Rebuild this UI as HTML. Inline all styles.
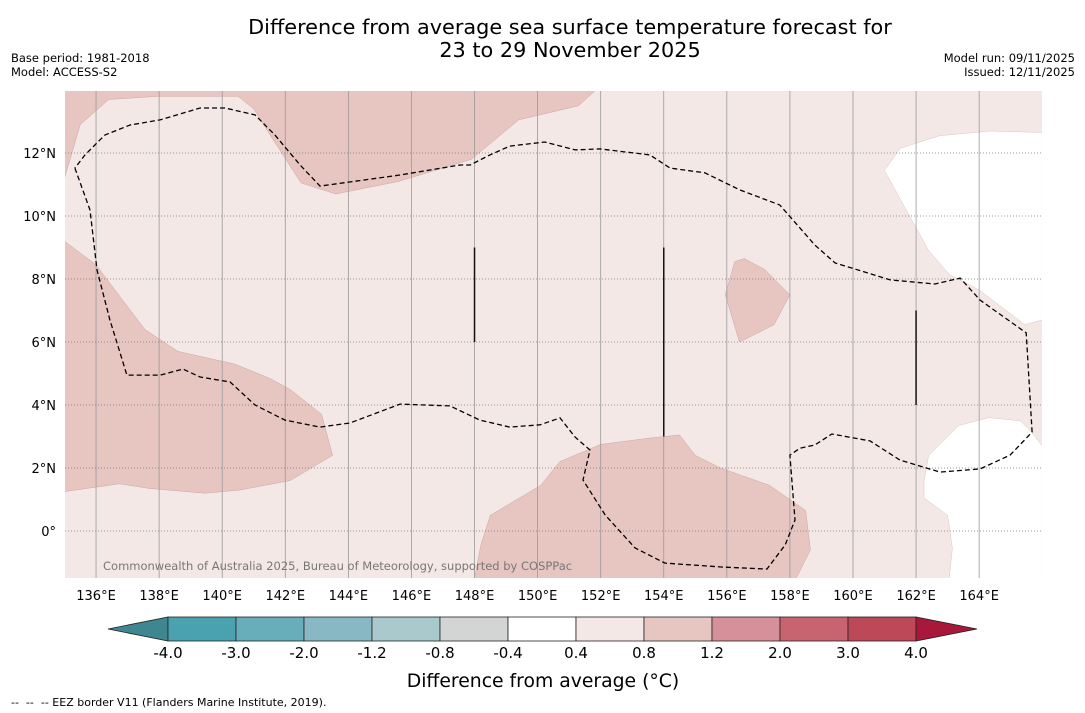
<!DOCTYPE html>
<html><head><meta charset="utf-8"><style>
body{margin:0;background:#fff;width:1085px;height:713px;overflow:hidden;font-family:"Liberation Sans","DejaVu Sans",sans-serif}
svg{position:absolute;left:0;top:0}
</style></head><body>
<svg id="chart" width="1085" height="713" viewBox="0 0 1085 713" font-family="'DejaVu Sans','Liberation Sans',sans-serif">
<text x="570" y="34" text-anchor="middle" font-size="20.8">Difference from average sea surface temperature forecast for</text>
<text x="570" y="57" text-anchor="middle" font-size="20.8">23 to 29 November 2025</text>
<text x="11" y="62" font-size="11.5">Base period: 1981-2018</text>
<text x="11" y="76" font-size="11.5">Model: ACCESS-S2</text>
<text x="1075" y="62" font-size="11.5" text-anchor="end">Model run: 09/11/2025</text>
<text x="1075" y="76" font-size="11.5" text-anchor="end">Issued: 12/11/2025</text>
<defs><clipPath id="mapclip"><rect x="65" y="91" width="977" height="487"/></clipPath></defs>
<g id="map" clip-path="url(#mapclip)"></g>
<g id="axes"></g>
<g id="cbar"></g>
<text x="543" y="687" text-anchor="middle" font-size="18.8">Difference from average (°C)</text>
<text x="11" y="706" font-size="11" xml:space="preserve">--  --  -- EEZ border V11 (Flanders Marine Institute, 2019).</text>
</svg>
<script>
const lonTicks=[136,138,140,142,144,146,148,150,152,154,156,158,160,162,164];
const latTicks=[0,2,4,6,8,10,12];
const cbLabels=["-4.0","-3.0","-2.0","-1.2","-0.8","-0.4","0.4","0.8","1.2","2.0","3.0","4.0"];
const cbColors=["#4aa2b1","#68adba","#88b8c3","#a9c9cd","#d3d5d5","#ffffff","#f4e8e6","#e7c6c2","#d5909a","#c8646f","#bd4858"];
const lowColor="#3e8790", highColor="#a7183b";
const warmRegions=[
 [[135,11.2],[135.5,12.9],[136.4,13.7],[138,13.8],[140.5,13.8],[141,13.4],[141.5,12.6],[142.5,11.05],[143.6,10.7],[145.6,11.1],[147.9,11.8],[149.4,13.05],[151.3,13.5],[151.85,14],[135,14]],
 [[135,9.2],[136,8.45],[136.6,7.65],[137.55,6.4],[138.6,5.7],[140.4,5.3],[141.5,4.85],[142.15,4.5],[143.15,3.7],[143.5,2.4],[142.15,1.6],[140.55,1.3],[139.45,1.2],[137.7,1.35],[136.75,1.5],[135,1.25]],
 [[148,-1.5],[148.2,-0.45],[148.5,0.5],[150.1,1.45],[150.7,2.2],[152,2.75],[153.55,2.95],[154.5,3.05],[155,2.4],[155.8,2.0],[157.35,1.45],[158.5,0.65],[158.65,-0.6],[158.2,-1.5]],
 [[156.25,8.55],[156.55,8.65],[157.2,8.3],[158,7.5],[157.5,6.55],[156.4,6.0],[155.95,7.5]]
];
const neutralRegions=[
 [[161.5,12.15],[162.75,12.55],[164.35,12.7],[166,12.65],[166,6.7],[165.45,6.55],[164,7.65],[163.05,8.15],[162.4,8.9],[161.6,10.35],[161,11.45]],
 [[162.4,2.4],[163.35,3.35],[164.3,3.6],[165.3,3.5],[165.65,3.15],[166,2.7],[166,-1.5],[163.05,-1.5],[163.15,-0.55],[163,0.5],[162.25,1.05],[162.25,1.6]]
];
const eezLine=[[135.33,11.52],[135.81,10.19],[136.03,8.29],[136.44,6.7],[136.98,4.95],[138.03,4.95],[138.76,5.14],[139.3,4.89],[140.25,4.73],[141.04,4.0],[141.99,3.52],[143.1,3.3],[144.05,3.43],[145.64,4.03],[147.22,3.97],[148.17,3.52],[149.12,3.3],[150.08,3.37],[150.71,3.59],[151.19,2.98],[151.66,2.57],[151.44,1.62],[152.14,0.51],[153.09,-0.54],[154.04,-1.02],[155.78,-1.14],[157.27,-1.21],[157.85,-0.44],[158.16,0.35],[158,2.41],[158.32,2.63],[158.79,2.73],[159.33,3.08],[160.54,2.86],[161.49,2.25],[162.76,1.87],[164.03,1.97],[164.98,2.41],[165.68,3.14],[165.49,6.29],[164.03,7.33],[163.4,8.03],[162.6,7.84],[161.18,7.97],[159.43,8.51],[158.79,9.08],[157.68,10.35],[156.41,10.83],[155.3,11.37],[154.2,11.52],[153.56,11.94],[151.98,12.13],[151.19,12.1],[150.23,12.35],[149.12,12.22],[148.49,11.94],[147.86,11.62],[147.54,11.62],[145.64,11.3],[143.1,10.95],[142.47,11.62],[141.67,12.57],[141.04,13.21],[140.09,13.43],[139.3,13.43],[138.03,13.05],[137.08,12.89],[136.28,12.57],[135.65,11.94],[135.33,11.52]];
const segLines=[[148,6,9],[154,3,9],[162,4,7]];
const NS="http://www.w3.org/2000/svg";
const X=lon=>64.5+(lon-135)*31.54, Y=lat=>531-lat*31.5;
function el(t,a,p){const e=document.createElementNS(NS,t);for(const k in a)e.setAttribute(k,a[k]);p.appendChild(e);return e;}
const map=document.getElementById('map'),axes=document.getElementById('axes'),cb=document.getElementById('cbar');
const bg=el('rect',{x:65,y:91,width:977,height:487,fill:'#f4e8e6'},map);


const pts=a=>a.map(p=>X(p[0]).toFixed(1)+','+Y(p[1]).toFixed(1)).join(' ');
warmRegions.forEach(r=>{const e=el('polygon',{points:pts(r),fill:'#e7c6c2',stroke:'#c9a7a3','stroke-width':0.5},map);

});
neutralRegions.forEach(r=>{const e=el('polygon',{points:pts(r),fill:'#ffffff',stroke:'#d8c8c6','stroke-width':0.5},map);

});
lonTicks.forEach(l=>{const e=el('line',{x1:X(l),x2:X(l),y1:91,y2:578,stroke:'#999','stroke-width':0.8},map);

});
latTicks.forEach(l=>{const e=el('line',{x1:65,x2:1042,y1:Y(l),y2:Y(l),stroke:'#777','stroke-width':0.8,'stroke-dasharray':'1,2'},map);

});
const eez=el('polyline',{points:pts(eezLine),fill:'none',stroke:'#000','stroke-width':1.3,'stroke-dasharray':'5,3'},map);


segLines.forEach(s=>{const e=el('line',{x1:X(s[0]),x2:X(s[0]),y1:Y(s[1]),y2:Y(s[2]),stroke:'#111','stroke-width':1.5},map);

});
const cr=el('text',{x:103,y:570,'font-size':11.5,fill:'#777'},map);cr.textContent='Commonwealth of Australia 2025, Bureau of Meteorology, supported by COSPPac';


lonTicks.forEach(l=>{const t=el('text',{x:X(l),y:600,'text-anchor':'middle','font-size':13},axes);t.textContent=l+'°E';

});
latTicks.forEach(l=>{const t=el('text',{x:56,y:Y(l)+5,'text-anchor':'end','font-size':13},axes);t.textContent=l===0?'0°':l+'°N';

});
const c0=168,cw=68,cy=617,ch=24;
const lt=el('polygon',{points:`${c0},${cy} ${c0},${cy+ch} 108,${cy+ch/2}`,fill:lowColor,stroke:'#222','stroke-width':0.8},cb);


cbColors.forEach((c,i)=>{const r=el('rect',{x:c0+i*cw,y:cy,width:cw,height:ch,fill:c,stroke:'#222','stroke-width':0.8},cb);

});
const ex=c0+cbColors.length*cw;
const rt=el('polygon',{points:`${ex},${cy} ${ex},${cy+ch} 977,${cy+ch/2}`,fill:highColor,stroke:'#222','stroke-width':0.8},cb);


cbLabels.forEach((s,i)=>{const t=el('text',{x:c0+i*cw,y:658,'text-anchor':'middle','font-size':15},cb);t.textContent=s;

});
</script>
</body></html>
